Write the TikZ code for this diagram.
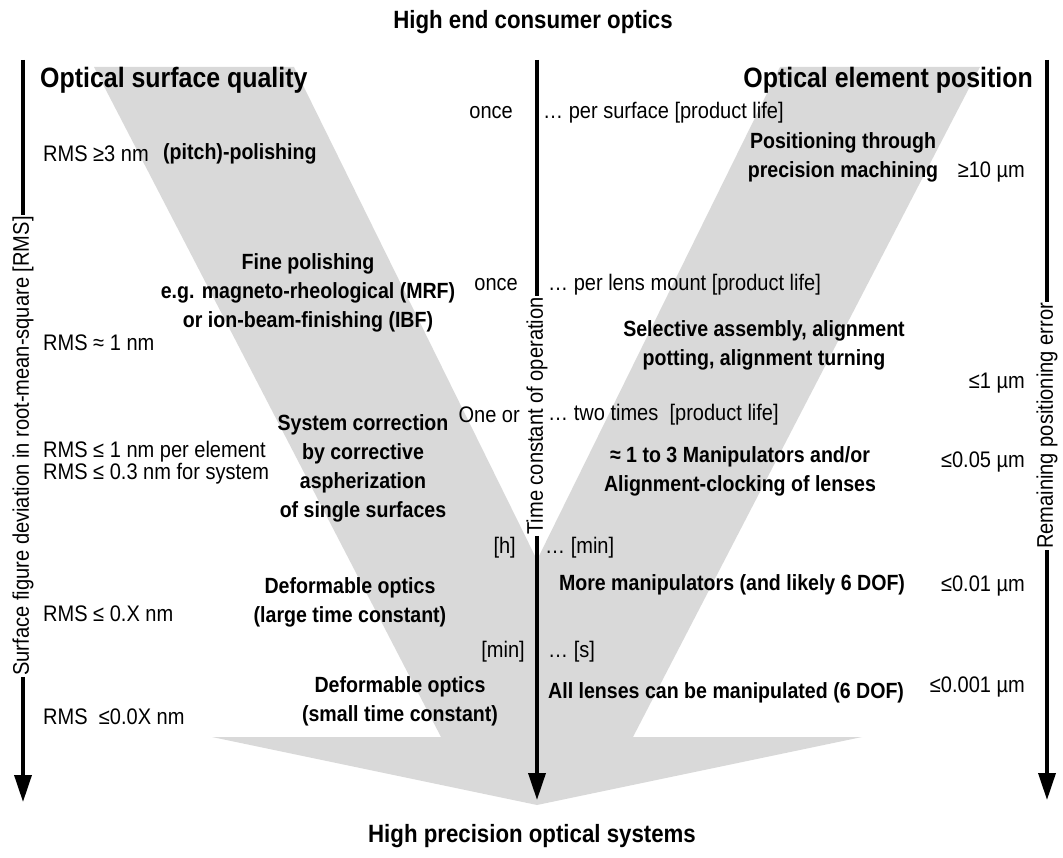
\documentclass[tikz,border=0pt]{standalone}
\usepackage{fontspec}
\setmainfont{Liberation Sans}[FakeStretch=0.89]
\usetikzlibrary{arrows.meta}
\definecolor{vgray}{HTML}{D9D9D9}
\tikzset{
  reg/.style={font=\fontsize{22.5}{28}\selectfont, inner sep=0pt},
  bld/.style={font=\fontsize{22}{29}\selectfont\bfseries, inner sep=0pt, align=center},
  hd/.style={font=\fontsize{28}{32}\selectfont\bfseries, inner sep=0pt},
  ttl/.style={font=\fontsize{25}{30}\selectfont\bfseries, inner sep=0pt},
  axlbl/.style={font=\fontsize{22.6}{26}\selectfont, inner sep=1pt, rotate=90},
  axline/.style={line width=3.5pt},
  axarrow/.style={line width=3.5pt, -{Triangle[width=17pt,length=27pt]}}
}
\begin{document}
\begin{tikzpicture}[x=1pt,y=-1pt]
\useasboundingbox (0,0) rectangle (1063,858);
% grey V arrow
\fill[vgray] (94,67) -- (294,67) -- (537,560) -- (780,67) -- (980,67) -- (633,737)
  -- (862,737) -- (537,805) -- (212,737) -- (441,737) -- cycle;

% titles
\node[ttl] (top) at (533,22) {High end consumer optics};
\node[ttl] (bottom) at (532,836) {High precision optical systems};
\node[hd, anchor=west] (osq) at (40,80) {Optical surface quality};
\node[hd, anchor=east] (oep) at (1033,80) {Optical element position};

% axes
\coordinate (lt) at (23,60);  \coordinate (lb) at (23,802);
\coordinate (mt) at (537,60); \coordinate (mb) at (537,800);
\coordinate (rt) at (1047,60); \coordinate (rb) at (1047,800);
\node[axlbl] (llbl) at (23,446) {Surface figure deviation in root-mean-square [RMS]};
\node[axlbl] (mlbl) at (537,416) {Time constant of operation};
\node[axlbl] (rlbl) at (1047,426) {Remaining positioning error};
\draw[axline] (lt) -- (llbl.east);
\draw[axarrow] (llbl.west) -- (lb);
\draw[axline] (mt) -- (mlbl.east);
\draw[axarrow] (mlbl.west) -- (mb);
\draw[axline] (rt) -- (rlbl.east);
\draw[axarrow] (rlbl.west) -- (rb);

% left RMS values
\node[reg, anchor=west] (r1) at (43,154) {RMS ≥3 nm};
\node[reg, anchor=west] (r2) at (43,343) {RMS ≈ 1 nm};
\node[reg, anchor=west] (r3) at (43,452) {RMS ≤ 1 nm per element};
\node[reg, anchor=west] (r4) at (43,474) {RMS ≤ 0.3 nm for system};
\node[reg, anchor=west] (r5) at (43,614) {RMS ≤ 0.X nm};
\node[reg, anchor=west] (r6) at (43,717) {RMS\hspace{0.5em}≤0.0X nm};

% left band methods
\node[bld, anchor=west] (m1) at (163,154) {(pitch)-polishing};
\node[bld] (m2) at (308,293) {Fine polishing\\e.g. magneto-rheological (MRF)\\or ion-beam-finishing (IBF)};
\node[bld] (m3) at (363,468) {System correction\\by corrective\\aspherization\\of single surfaces};
\node[bld] (m4) at (350,602) {Deformable optics\\(large time constant)};
\node[bld] (m5) at (400,701) {Deformable optics\\(small time constant)};

% centre time constants
\node[reg, anchor=east] (t1l) at (513,113) {once};
\node[reg, anchor=west] (t1r) at (543,113) {… per surface [product life]};
\node[reg, anchor=east] (t2l) at (518,285) {once};
\node[reg, anchor=west] (t2r) at (548,285) {… per lens mount [product life]};
\node[reg, anchor=east] (t3l) at (520,415) {One or};
\node[reg, anchor=west] (t3r) at (548,415) {… two times\hspace{0.5em}[product life]};
\node[reg, anchor=east] (t4l) at (516,548) {[h]};
\node[reg, anchor=west] (t4r) at (545,548) {… [min]};
\node[reg, anchor=east] (t5l) at (525,652) {[min]};
\node[reg, anchor=west] (t5r) at (548,652) {… [s]};

% right band methods
\node[bld] (p1) at (843,157) {Positioning through\\precision machining};
\node[bld] (p2) at (764,345) {Selective assembly, alignment\\potting, alignment turning};
\node[bld] (p3) at (740,471) {≈ 1 to 3 Manipulators and/or\\Alignment-clocking of lenses};
\node[bld] (p4) at (732,585) {More manipulators (and likely 6 DOF)};
\node[bld, anchor=west] (p5) at (548,693) {All lenses can be manipulated (6 DOF)};

% right positioning errors
\node[reg, anchor=east] (e1) at (1025,172) {≥10 µm};
\node[reg, anchor=east] (e2) at (1025,383) {≤1 µm};
\node[reg, anchor=east] (e3) at (1025,462) {≤0.05 µm};
\node[reg, anchor=east] (e4) at (1025,586) {≤0.01 µm};
\node[reg, anchor=east] (e5) at (1025,687) {≤0.001 µm};
\end{tikzpicture}
\end{document}
